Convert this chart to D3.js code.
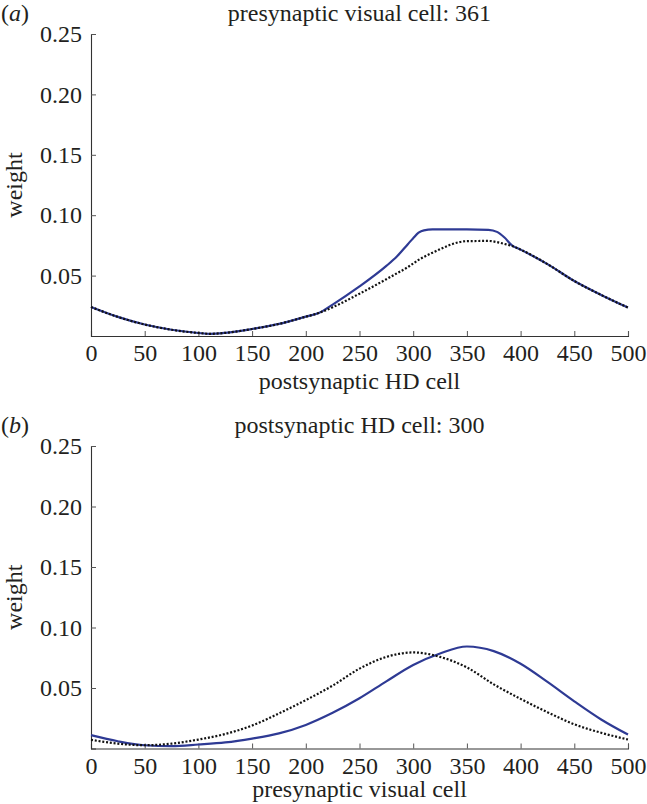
<!DOCTYPE html>
<html>
<head>
<meta charset="utf-8">
<script src="https://cdn.jsdelivr.net/npm/d3@7"></script>
<style>
  html, body { margin: 0; padding: 0; background: #fff; }
  svg { display: block; }
  text { font-family: "Liberation Serif", "Times New Roman", serif; fill: #231f20; }
</style>
</head>
<body>
<script>
// ---------------- DATA ----------------
const xTicks = [0, 50, 100, 150, 200, 250, 300, 350, 400, 450, 500];
const yTicks = [0.05, 0.10, 0.15, 0.20, 0.25];
const yTickLabels = ["0.05", "0.10", "0.15", "0.20", "0.25"];

// Panel (a): presynaptic visual cell 361
const xA = [0, 25, 50, 75, 100, 111, 125, 150, 175, 200, 212, 225, 250, 275, 285, 295, 300, 305, 310, 318, 350, 370, 378, 385, 392, 400, 425, 450, 475, 500];
const dottedA = [0.024, 0.0158, 0.0095, 0.0052, 0.0025, 0.0018, 0.0026, 0.0058, 0.0100, 0.0160, 0.0190, 0.0238, 0.0350, 0.0470, 0.0520, 0.0570, 0.0600, 0.0630, 0.0655, 0.0690, 0.0785, 0.0787, 0.0777, 0.0762, 0.0745, 0.0715, 0.0595, 0.0455, 0.0340, 0.0235];
const blueA   = [0.024, 0.0158, 0.0095, 0.0052, 0.0025, 0.0018, 0.0026, 0.0058, 0.0100, 0.0160, 0.0190, 0.0260, 0.0410, 0.0580, 0.0660, 0.0760, 0.0810, 0.0855, 0.0875, 0.0882, 0.0883, 0.0879, 0.0862, 0.0815, 0.0750, 0.0715, 0.0595, 0.0455, 0.0340, 0.0235];

// Panel (b): postsynaptic HD cell 300
const xB = [0, 25, 50, 75, 100, 125, 150, 175, 200, 225, 250, 275, 300, 325, 350, 375, 400, 425, 450, 475, 500];
const dottedB = [0.0072, 0.004, 0.0027, 0.004, 0.0074, 0.012, 0.019, 0.029, 0.040, 0.052, 0.066, 0.0757, 0.0794, 0.0757, 0.067, 0.053, 0.041, 0.030, 0.020, 0.013, 0.0074];
const blueB   = [0.011, 0.006, 0.0027, 0.002, 0.0033, 0.005, 0.0082, 0.0125, 0.0195, 0.0295, 0.0415, 0.0555, 0.0690, 0.0785, 0.0843, 0.0805, 0.0700, 0.0550, 0.0390, 0.0240, 0.0115];

const panels = [
  { tag: "a", title: "presynaptic visual cell: 361", xlabel: "postsynaptic HD cell", xs: xA, blue: blueA, dotted: dottedA },
  { tag: "b", title: "postsynaptic HD cell: 300", xlabel: "presynaptic visual cell", xs: xB, blue: blueB, dotted: dottedB }
];

// ---------------- LAYOUT ----------------
const W = 647, H = 804;
const plotLeft = 91, plotRight = 628;
const panelTop = [34, 446], panelBottom = [336, 748.5];
const xLabelY = [389, 797];
const fontSize = 24;
const blueColor = "#2e3a94";

const svg = d3.select("body").append("svg").attr("width", W).attr("height", H);

panels.forEach((p, i) => {
  const x = d3.scaleLinear().domain([0, 500]).range([plotLeft, plotRight]);
  const y = d3.scaleLinear().domain([0, 0.25]).range([panelBottom[i], panelTop[i]]);
  const g = svg.append("g");

  // Axes (ticks pointing inward)
  const xAxis = d3.axisBottom(x).tickValues(xTicks).tickSize(-5).tickPadding(8).tickFormat(d3.format("d"));
  const yAxis = d3.axisLeft(y).tickValues(yTicks).tickSize(-5).tickPadding(9).tickFormat((d, k) => yTickLabels[k]);

  const gx = g.append("g").attr("transform", `translate(0,${panelBottom[i]})`).call(xAxis);
  const gy = g.append("g").attr("transform", `translate(${plotLeft},0)`).call(yAxis);
  [gx, gy].forEach(ax => {
    ax.select(".domain").attr("stroke", "#333").attr("stroke-width", 1.1);
    ax.selectAll(".tick line").attr("stroke", "#555").attr("stroke-width", 1);
    ax.selectAll(".tick text").attr("font-size", fontSize)
      .attr("font-family", "Liberation Serif, Times New Roman, serif").attr("fill", "#231f20");
  });
  gx.selectAll(".tick text").attr("dy", "0.71em");

  // Lines
  const pts = (vals) => p.xs.map((xv, k) => [xv, vals[k]]);
  const line = d3.line().x(d => x(d[0])).y(d => y(d[1])).curve(d3.curveMonotoneX);

  g.append("path").attr("d", line(pts(p.blue)))
    .attr("fill", "none").attr("stroke", blueColor).attr("stroke-width", 2.2)
    .attr("stroke-linejoin", "round");
  g.append("path").attr("d", line(pts(p.dotted)))
    .attr("fill", "none").attr("stroke", "#111").attr("stroke-width", 2.2)
    .attr("stroke-dasharray", "2,1.8");

  // Titles and labels
  const titleY = panelTop[i] - 13;
  g.append("text").attr("x", (plotLeft + plotRight) / 2).attr("y", titleY)
    .attr("text-anchor", "middle").attr("font-size", fontSize).text(p.title);

  const tag = g.append("text").attr("x", 1).attr("y", titleY).attr("font-size", fontSize);
  tag.append("tspan").text("(");
  tag.append("tspan").attr("font-style", "italic").text(p.tag);
  tag.append("tspan").text(")");

  g.append("text").attr("x", (plotLeft + plotRight) / 2).attr("y", xLabelY[i])
    .attr("text-anchor", "middle").attr("font-size", fontSize).text(p.xlabel);

  const ylabY = (panelTop[i] + panelBottom[i]) / 2;
  g.append("text").attr("transform", `translate(22,${ylabY}) rotate(-90)`)
    .attr("text-anchor", "middle").attr("font-size", fontSize).text("weight");
});
</script>
</body>
</html>
